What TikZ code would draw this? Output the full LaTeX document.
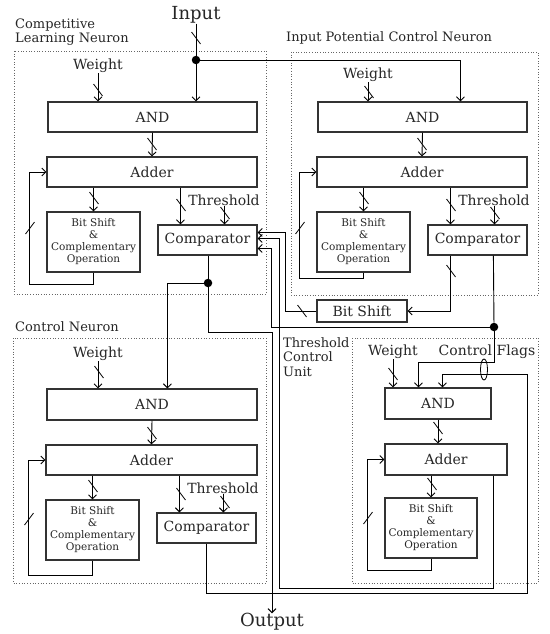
\documentclass[tikz,border=0pt]{standalone}
\usepackage{fontspec}
\setmainfont{DejaVu Serif}
\usetikzlibrary{arrows.meta,calc}
\begin{document}
\begin{tikzpicture}[x=1pt,y=-1pt,
  box/.style={draw=black!80, line width=1.2pt, inner sep=0pt, align=center, font=\fontsize{14}{16}\selectfont, text=black!85},
  bsbox/.style={box, font=\fontsize{10.5}{12}\selectfont},
  wire/.style={line width=0.9pt, black},
  arr/.style={wire, -{Straight Barb[length=4pt,width=8pt,line width=0.9pt]}},
  region/.style={draw=black!60, line width=0.7pt, dotted},
  rlabel/.style={font=\fontsize{13}{14.5}\selectfont, align=left, inner sep=0pt, text=black!85, anchor=west},
  txt/.style={font=\fontsize{14}{16}\selectfont, inner sep=0pt, text=black!85},
  big/.style={font=\fontsize{18}{20}\selectfont, inner sep=0pt, text=black!85},
  jdot/.style={circle, fill=black, inner sep=0pt, minimum size=8.5pt},
  tick/.pic={\draw[line width=0.8pt] (-4.5pt,6pt) -- (4.5pt,-6pt);},
  tickf/.pic={\draw[line width=0.8pt] (-4.5pt,-6pt) -- (4.5pt,6pt);},
]
\useasboundingbox (0,0) rectangle (549,634);

% regions
\draw[region] (14,51) rectangle (266,294);
\draw[region] (291,52) rectangle (538,295);
\draw[region] (13,338) rectangle (266,583);
\draw[region] (352,338) rectangle (538,583);

\node[rlabel] (lcln) at (15,32) {Competitive\\Learning Neuron};
\node[rlabel] (lipcn) at (286,38) {Input Potential Control Neuron};
\node[rlabel] (lcn) at (15,327) {Control Neuron};
\node[rlabel] (ltcu) at (283,357) {Threshold\\Control\\Unit};

\node[big] (inp) at (196,15) {Input};
\node[big] (outp) at (272,622) {Output};

% ---------- Competitive Learning Neuron
\node[txt] (w1) at (98,66) {Weight};
\node[box, minimum width=209pt, minimum height=30pt] (and1) at (152.5,117) {AND};
\node[box, minimum width=210pt, minimum height=30pt] (add1) at (152,172) {Adder};
\node[bsbox, minimum width=93pt, minimum height=60pt] (bsc1) at (93.5,242) {Bit Shift\\\&\\Complementary\\Operation};
\node[box, minimum width=99pt, minimum height=30pt] (cmp1) at (207.5,240) {Comparator};
\node[txt] (th1) at (224,200) {Threshold};

% ---------- Input Potential Control Neuron
\node[txt] (w2) at (368,75) {Weight};
\node[box, minimum width=209pt, minimum height=30pt] (and2) at (422.5,117) {AND};
\node[box, minimum width=210pt, minimum height=30pt] (add2) at (422,172) {Adder};
\node[bsbox, minimum width=93pt, minimum height=60pt] (bsc2) at (363.5,242) {Bit Shift\\\&\\Complementary\\Operation};
\node[box, minimum width=99pt, minimum height=30pt] (cmp2) at (477.5,240) {Comparator};
\node[txt] (th2) at (494,200) {Threshold};

\node[box, minimum width=90pt, minimum height=22pt] (bs) at (362,311) {Bit Shift};

% ---------- Control Neuron
\node[txt] (w3) at (98,354) {Weight};
\node[box, minimum width=210pt, minimum height=31pt] (and3) at (152,404.5) {AND};
\node[box, minimum width=211pt, minimum height=30pt] (add3) at (151.5,460) {Adder};
\node[bsbox, minimum width=93pt, minimum height=60pt] (bsc3) at (92.5,530) {Bit Shift\\\&\\Complementary\\Operation};
\node[box, minimum width=99pt, minimum height=30pt] (cmp3) at (206.5,528) {Comparator};
\node[txt] (th3) at (223,488) {Threshold};

% ---------- Threshold Control Unit
\node[txt] (w4) at (393,352) {Weight};
\node[txt] (cf) at (487,352) {Control Flags};
\node[box, minimum width=106pt, minimum height=31pt] (and4) at (438,403.5) {AND};
\node[box, minimum width=122pt, minimum height=31pt] (add4) at (446,459.5) {Adder};
\node[bsbox, minimum width=92pt, minimum height=60pt] (bsc4) at (431,528) {Bit Shift\\\&\\Complementary\\Operation};

% helper coordinates
\coordinate (in2) at ($(and2.north west)+(143,0)$);
\coordinate (c1a) at ($(cmp1.north west)+(23,0)$);
\coordinate (c1b) at ($(cmp1.north west)+(67,0)$);
\coordinate (c2a) at ($(cmp2.north west)+(23,0)$);
\coordinate (c2b) at ($(cmp2.north west)+(67,0)$);
\coordinate (c3a) at ($(cmp3.north west)+(23,0)$);
\coordinate (c3b) at ($(cmp3.north west)+(67,0)$);
\coordinate (c2o1) at ($(cmp2.south west)+(23,0)$);
\coordinate (c2o2) at ($(cmp2.south west)+(66,0)$);
\coordinate (c3o) at ($(cmp3.south west)+(50,0)$);
\coordinate (ci1) at ($(cmp1.north east)+(0,8)$);
\coordinate (ci2) at ($(cmp1.north east)+(0,14)$);
\coordinate (ci3) at ($(cmp1.north east)+(0,24)$);
\coordinate (a3in) at ($(and3.north west)+(121,0)$);
\coordinate (a4b) at ($(and4.north west)+(34,0)$);
\coordinate (a4c) at ($(and4.north west)+(58,0)$);
\coordinate (a4o) at ($(add4.south west)+(109,0)$);

\node[jdot] (d1) at (196,60) {};
\node[jdot] (d2) at (208,283) {};
\node[jdot] (d3) at (494,327) {};

% ---------- wires CLN
\draw[arr] (inp.south) -- (inp.south |- and1.north);
\draw[arr] (d1) -| (in2);
\draw[arr] (w1.south) -- (w1.south |- and1.north);
\draw[arr] (and1.south) -- (add1.north);
\draw[arr] (bsc1.north |- add1.south) -- (bsc1.north);
\draw[arr] (add1.south -| c1a) -- (c1a);
\draw[arr] (th1.south -| c1b) -- (c1b);
\draw[arr] (bsc1.south) -- ++(0,12) -| ($(add1.west)+(-17,0)$) -- (add1.west);
\draw[wire] (cmp1.south -| d2) -- (d2);
\draw[arr] (d2) -| (a3in);
\draw[arr] (d2) -- ++(0,49) -| (outp.north);

% ---------- wires IPCN
\draw[arr] (w2.south) -- (w2.south |- and2.north);
\draw[arr] (and2.south) -- (add2.north);
\draw[arr] (bsc2.north |- add2.south) -- (bsc2.north);
\draw[arr] (add2.south -| c2a) -- (c2a);
\draw[arr] (th2.south -| c2b) -- (c2b);
\draw[arr] (bsc2.south) -- ++(0,6) -| ($(add2.west)+(-17,0)$) -- (add2.west);
\draw[arr] (c2o1) |- (bs.east);
\draw[wire] (c2o2) -- (d3);

% ---------- comparator 1 feedback inputs
\draw[arr] (bs.west) -| ($(ci1)+(28,0)$) -- (ci1);
\draw[arr] (a4o) -- ++(0,113) -| ($(ci2)+(22,0)$) -- (ci2);
\draw[arr] (d3) -| ($(ci3)+(14,0)$) -- (ci3);

% ---------- wires CN
\draw[arr] (w3.south) -- (w3.south |- and3.north);
\draw[arr] (and3.south) -- (add3.north);
\draw[arr] (bsc3.north |- add3.south) -- (bsc3.north);
\draw[arr] (add3.south -| c3a) -- (c3a);
\draw[arr] (th3.south -| c3b) -- (c3b);
\draw[arr] (bsc3.south) -- ++(0,15) -| ($(add3.west)+(-17,0)$) -- (add3.west);
\draw[arr] (c3o) -- ++(0,50) -- ++(321,0) |- ($(a4c)+(0,-13)$) -- (a4c);

% ---------- wires TCU
\draw[arr] (w4.south) -- (w4.south |- and4.north);
\draw[arr] (d3) |- ($(a4b)+(0,-25)$) -- (a4b);
\draw[arr] (and4.south) -- (and4.south |- add4.north);
\draw[arr] (bsc4.north |- add4.south) -- (bsc4.north);
\draw[arr] (bsc4.south) -- ++(0,12) -| ($(add4.west)+(-17,0)$) -- (add4.west);
\draw[line width=0.8pt] (484,369.5) ellipse [x radius=3.5, y radius=10.5];

% ---------- bus slashes
\foreach \p in {(196,38),(98,90),(369,92),(152,144),(422,144),(94,198),(364,198),
  (181,205),(451,205),(225,213),(495,213),(451,271),(302,311),(99,372),(152,433),
  (93,486),(181,494),(225,502),(393,374),(438,428),(432,484)}
  \pic at \p {tick};
\foreach \p in {(30,228),(300,228),(29,519),(368,518)}
  \pic at \p {tickf};
\end{tikzpicture}
\end{document}
